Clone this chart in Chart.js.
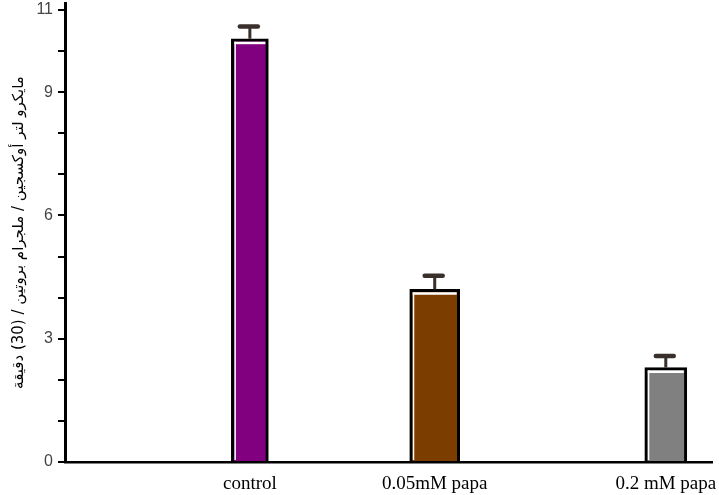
<!DOCTYPE html>
<html><head><meta charset="utf-8">
<script src="https://cdn.jsdelivr.net/npm/chart.js@4"></script>
<style>html,body{margin:0;padding:0;background:#fff}#c{display:block}</style>
</head><body><canvas id="c" width="719" height="495"></canvas>
<script>
// ---- data ----
const categories = ['control', '0.05mM papa', '0.2 mM papa'];
const means = [10.3, 4.2, 2.3];
const errors = [0.3, 0.33, 0.28];
const yTickLabels = [0, 3, 6, 9, 11];
const yTitle = 'مايكرو لتر أوكسجين / ملجرام بروتين / (30) دقيقة';

// ---- layout / style ----
const slots = [4, 8, 13];
const slotCount = 15;
const colors = ['#800080', '#7c3e00', '#808080'];
const thickness = [37, 50, 42];

const labels = Array(slotCount).fill('');
slots.forEach((s, i) => labels[s] = categories[i]);

const datasets = categories.map((c, i) => {
  const d = Array(slotCount).fill(null);
  d[slots[i]] = means[i];
  return {
    label: c, data: d,
    backgroundColor: colors[i],
    borderColor: '#000',
    borderWidth: {top: 3, left: 3, right: 3, bottom: 0},
    borderSkipped: 'bottom',
    barThickness: thickness[i],
    grouped: false
  };
});

const decor = {
  id: 'decor',
  afterDatasetsDraw(chart) {
    const ctx = chart.ctx;
    const ys = chart.scales.y;
    chart.data.datasets.forEach((ds, i) => {
      const meta = chart.getDatasetMeta(i);
      const el = meta.data[slots[i]];
      if (!el) return;
      const w = el.width, x = el.x, y = el.y, base = el.base;
      const l = x - w / 2, r = x + w / 2;
      ctx.save();
      ctx.strokeStyle = '#fff';
      ctx.lineWidth = 2.5;
      ctx.beginPath();
      ctx.moveTo(l + 3, y + 4.2);
      ctx.lineTo(r - 3, y + 4.2);
      ctx.stroke();
      ctx.lineWidth = 1.5;
      ctx.beginPath();
      ctx.moveTo(l + 3.8, y + 3);
      ctx.lineTo(l + 3.8, base - 1);
      ctx.stroke();
      const yTop = ys.getPixelForValue(means[i] + errors[i]);
      ctx.strokeStyle = '#3a302b';
      ctx.lineWidth = 3;
      ctx.beginPath();
      ctx.moveTo(x, y);
      ctx.lineTo(x, yTop);
      ctx.stroke();
      ctx.lineWidth = 4.5;
      ctx.lineCap = 'round';
      ctx.beginPath();
      ctx.moveTo(x - 10, yTop);
      ctx.lineTo(x + 8, yTop);
      ctx.stroke();
      ctx.restore();
    });
  }
};

new Chart(document.getElementById('c'), {
  type: 'bar',
  data: {labels, datasets},
  plugins: [decor],
  options: {
    responsive: false,
    animation: false,
    layout: {padding: {top: 3, right: 7, left: 0, bottom: 0}},
    plugins: {legend: {display: false}, tooltip: {enabled: false}},
    scales: {
      x: {
        type: 'category',
        offset: false,
        grid: {display: false},
        border: {display: true, color: '#000', width: 2.5},
        ticks: {
          autoSkip: false, maxRotation: 0, minRotation: 0,
          color: '#000', padding: 3,
          font: {family: "'Liberation Serif', 'Times New Roman', serif", size: 19}
        },
        afterFit(s) { s.height = 33; s.paddingLeft = 0; s.paddingRight = 0; }
      },
      y: {
        min: 0, max: 11.17,
        afterBuildTicks(s) {
          const t = [];
          for (let v = 0; v <= 11; v++) t.push({value: v});
          s.ticks = t;
        },
        grid: {display: true, drawOnChartArea: false, drawTicks: true, tickLength: 7, color: '#000', lineWidth: 2},
        border: {display: true, color: '#000', width: 3},
        ticks: {
          color: '#444', padding: 5,
          font: {family: "'Liberation Sans Narrow', 'Liberation Sans', Arial, sans-serif", size: 16},
          callback: (v) => yTickLabels.includes(v) ? String(v) : ''
        },
        title: {
          display: true, text: yTitle, color: '#000',
          font: {family: "'DejaVu Sans', sans-serif", size: 15},
          padding: {top: 10, bottom: 0}
        },
        afterFit(s) { s.width = 65; s.paddingTop = 0; s.paddingBottom = 0; }
      }
    }
  }
});
</script>
</body></html>
